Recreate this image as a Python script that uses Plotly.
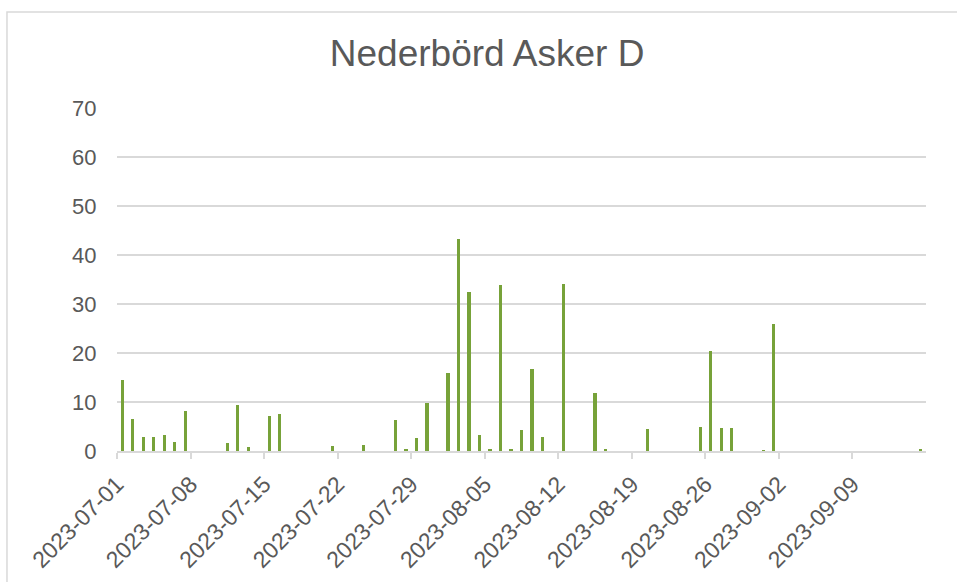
import plotly.graph_objects as go

# daily precipitation (mm), days without rain left out
dates = ['2023-07-01', '2023-07-02', '2023-07-03', '2023-07-04', '2023-07-05',
         '2023-07-06', '2023-07-07', '2023-07-11', '2023-07-12', '2023-07-13',
         '2023-07-15', '2023-07-16', '2023-07-21', '2023-07-24', '2023-07-27',
         '2023-07-28', '2023-07-29', '2023-07-30', '2023-08-01', '2023-08-02',
         '2023-08-03', '2023-08-04', '2023-08-05', '2023-08-06', '2023-08-07',
         '2023-08-08', '2023-08-09', '2023-08-10', '2023-08-12', '2023-08-15',
         '2023-08-16', '2023-08-20', '2023-08-25', '2023-08-26', '2023-08-27',
         '2023-08-28', '2023-08-31', '2023-09-01', '2023-09-15']
nederbord = [14.5, 6.6, 2.9, 2.9, 3.2,
             1.8, 8.1, 1.6, 9.4, 0.8,
             7.1, 7.6, 1.0, 1.3, 6.3,
             0.3, 2.7, 9.7, 15.9, 43.2,
             32.5, 3.2, 0.5, 33.8, 0.3,
             4.2, 16.8, 2.9, 34.1, 11.8,
             0.3, 4.4, 5.0, 20.4, 4.7,
             4.7, 0.2, 25.9, 0.3]

tick_dates = ['2023-07-01', '2023-07-08', '2023-07-15', '2023-07-22', '2023-07-29',
              '2023-08-05', '2023-08-12', '2023-08-19', '2023-08-26', '2023-09-02',
              '2023-09-09']
y_ticks = [0, 10, 20, 30, 40, 50, 60, 70]

DAY = 86400000
grey = '#595959'
light = '#D9D9D9'

fig = go.Figure(go.Bar(
    x=dates, y=nederbord,
    xperiod=DAY, xperiodalignment='middle',
    width=0.3 * DAY,
    marker=dict(color='#77A239', line_width=0),
))

fig.update_layout(
    width=957, height=582,
    margin=dict(l=117, r=31, t=108, b=131),
    paper_bgcolor='white', plot_bgcolor='white',
    font=dict(family='Liberation Sans, Arial, sans-serif', color=grey, size=22),
    title=dict(text='Nederbörd Asker D', font=dict(size=37, color=grey),
               xref='container', x=0.509, xanchor='center',
               yref='container', y=1 - 53 / 582, yanchor='middle'),
    showlegend=False,
    bargap=0,
    shapes=[dict(type='rect', xref='paper', yref='paper',
                 x0=-0.136, x1=1.2, y0=-0.6, y1=1.28,
                 line=dict(color=light, width=1.5), layer='below')],
)

fig.update_xaxes(
    type='date', range=['2023-07-01', '2023-09-16'], automargin=False,
    tickvals=tick_dates, ticktext=tick_dates, tickangle=-45,
    tickfont=dict(size=23), ticklabelstandoff=3,
    showgrid=False, zeroline=False,
    showline=True, linecolor=light, linewidth=1.5,
    ticks='outside', ticklen=6, tickwidth=1.5, tickcolor=light,
)
fig.update_yaxes(
    range=[0, 70], tickvals=y_ticks, automargin=False,
    showgrid=True, gridcolor=light, gridwidth=1.5,
    zeroline=False, showline=False,
    ticks='outside', ticklen=15, tickcolor='rgba(0,0,0,0)',
)

fig.write_html("out.html", config={'displayModeBar': False},
               post_script="document.body.style.margin='0';")
